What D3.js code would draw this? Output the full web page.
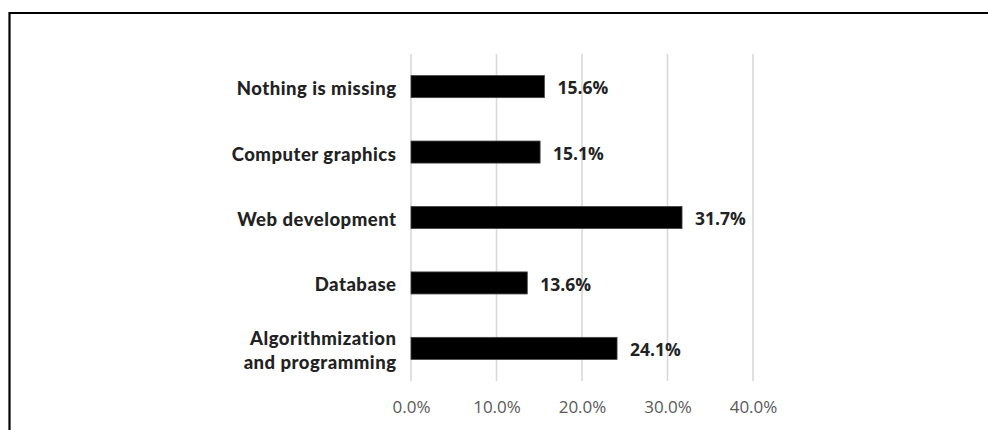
<!DOCTYPE html>
<html>
<head>
<meta charset="utf-8">
<script src="https://cdn.jsdelivr.net/npm/d3@7"></script>
<style>
  html, body { margin: 0; padding: 0; background: #fff; }
  svg { display: block; }
</style>
</head>
<body>
<svg id="chart" width="988" height="430"></svg>
<script>
const categories = ["Nothing is missing", "Computer graphics", "Web development", "Database", "Algorithmization\nand programming"];
const values = [15.6, 15.1, 31.7, 13.6, 24.1];
const tickValues = [0, 10, 20, 30, 40];
const tickLabels = ["0.0%", "10.0%", "20.0%", "30.0%", "40.0%"];

const svg = d3.select("#chart");

// frame border
svg.append("path")
  .attr("d", "M9.5,430 L9.5,13 L988,13")
  .attr("fill", "none")
  .attr("stroke", "#000")
  .attr("stroke-width", 2.2);

const x = d3.scaleLinear().domain([0, 40]).range([411, 753]);
const y = d3.scaleBand().domain(categories).range([54, 381]).paddingInner(0.663).paddingOuter(0.33);

// gridlines
svg.append("g").selectAll("line").data(tickValues).join("line")
  .attr("x1", d => x(d)).attr("x2", d => x(d))
  .attr("y1", 54).attr("y2", 381)
  .attr("stroke", "#d9d9d9").attr("stroke-width", 1.6);

// x axis labels
const xAxis = d3.axisBottom(x).tickValues(tickValues).tickFormat((d, i) => tickLabels[i]).tickSize(0).tickPadding(0);
const gx = svg.append("g").attr("transform", "translate(0,401)").call(xAxis);
gx.select(".domain").remove();
gx.selectAll("text")
  .attr("font-family", "'Open Sans', sans-serif")
  .attr("font-size", 17)
  .attr("fill", "#595959")
  .attr("dy", "0.71em");

// bars
svg.append("g").selectAll("rect").data(categories).join("rect")
  .attr("x", x(0))
  .attr("y", d => y(d))
  .attr("width", (d, i) => x(values[i]) - x(0))
  .attr("height", y.bandwidth())
  .attr("fill", "#000")
  .attr("stroke", "#444")
  .attr("stroke-width", 0.8);

// value labels
svg.append("g").selectAll("text").data(categories).join("text")
  .attr("x", (d, i) => x(values[i]) + 13)
  .attr("y", d => y(d) + y.bandwidth() / 2 + 1.5)
  .attr("dy", "0.35em")
  .attr("font-family", "'Open Sans', sans-serif")
  .attr("font-weight", 700)
  .attr("font-size", 17.5)
  .attr("fill", "#222")
  .text((d, i) => values[i].toFixed(1) + "%");

// category labels
const cl = svg.append("g").selectAll("text").data(categories).join("text")
  .attr("x", 396.5)
  .attr("text-anchor", "end")
  .attr("font-family", "Lato, sans-serif")
  .attr("font-weight", 900)
  .attr("font-size", 18.5)
  .attr("letter-spacing", "0.5px")
  .attr("fill", "#222");
cl.each(function(d) {
  const lines = d.split("\n");
  const cy = y(d) + y.bandwidth() / 2 + 2;
  const lh = 24;
  const t = d3.select(this);
  lines.forEach((ln, j) => {
    t.append("tspan")
      .attr("x", 396.5)
      .attr("y", cy + (j - (lines.length - 1) / 2) * lh)
      .attr("dy", "0.35em")
      .text(ln);
  });
});
</script>
</body>
</html>
